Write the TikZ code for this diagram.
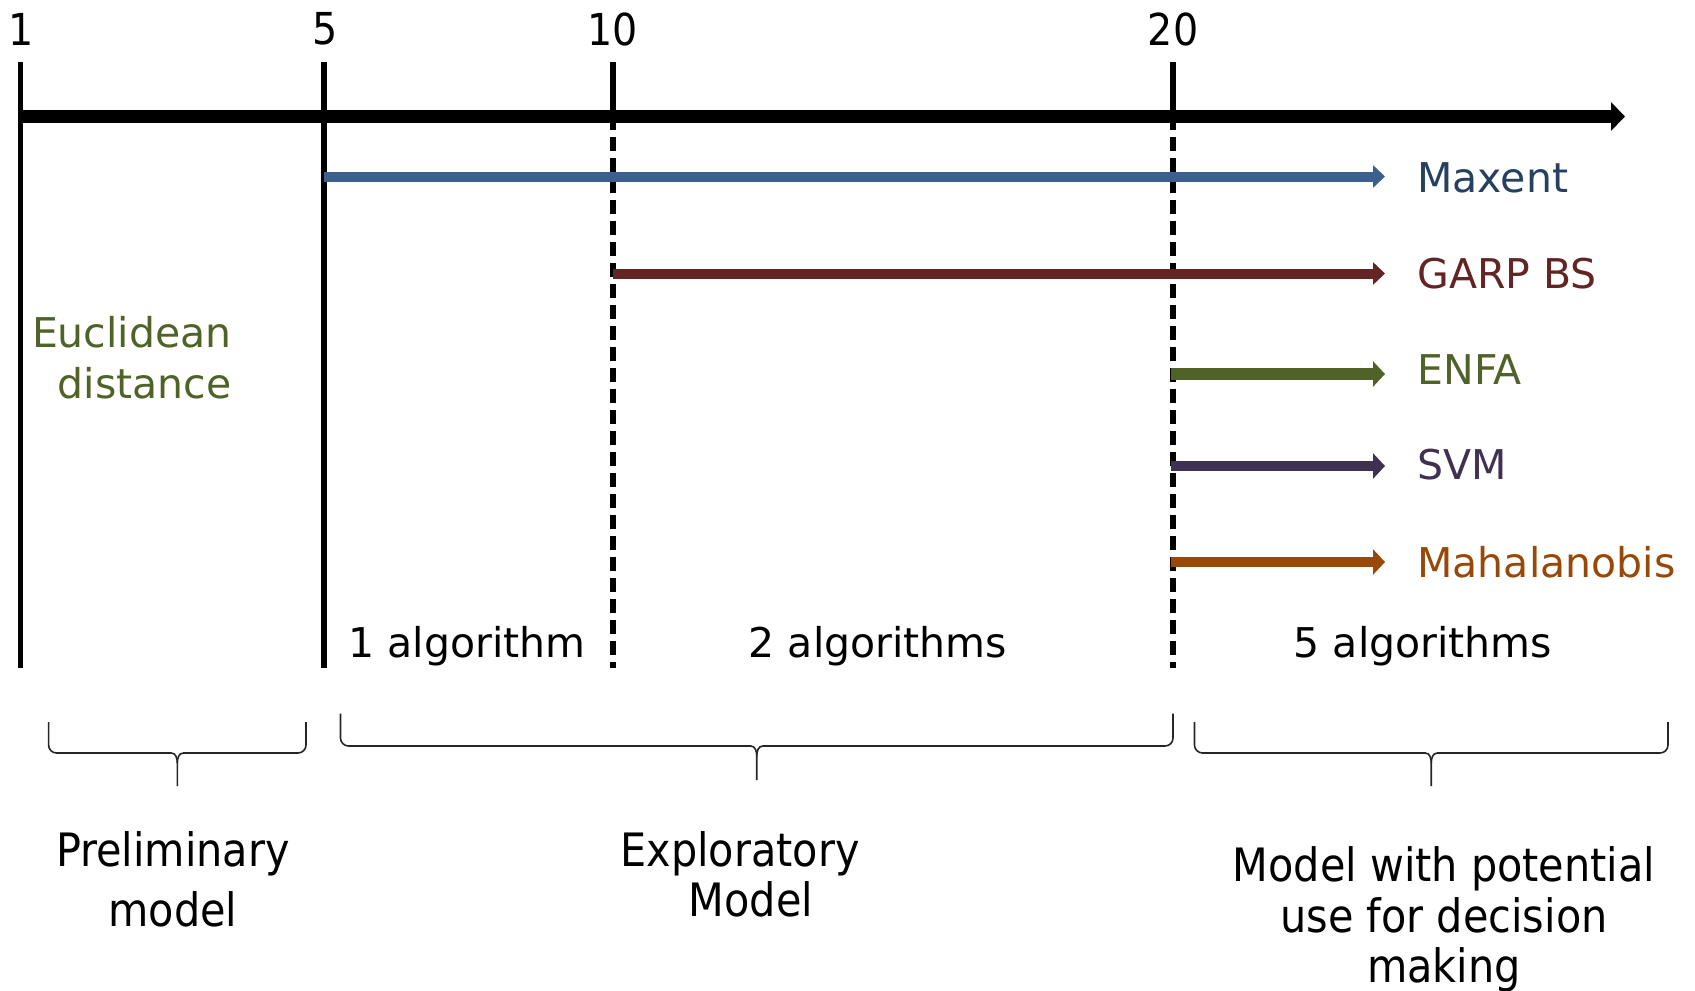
\documentclass[tikz,border=0pt]{standalone}
\usepackage{fontspec}
\setmainfont{DejaVu Sans}
\newfontfamily\condfont{DejaVu Sans Condensed}
\usetikzlibrary{arrows.meta}
\definecolor{cmax}{HTML}{3B6090}
\definecolor{cmaxt}{HTML}{254061}
\definecolor{cgarp}{HTML}{632523}
\definecolor{cenfa}{HTML}{4F6228}
\definecolor{csvm}{HTML}{3F3151}
\definecolor{cmah}{HTML}{984807}
\tikzset{
  tick/.style={line width=2.85pt},
  dtick/.style={line width=2.85pt, dash pattern=on 7pt off 3.5pt},
  axisline/.style={line width=6.2pt, -{Triangle[length=7pt,width=14pt]}},
  algo/.style={-{Triangle[length=6pt,width=#1]}},
  numlab/.style={font=\condfont\fontsize{22}{26}\selectfont, inner sep=0pt},
  alglab/.style={font=\fontsize{20.5}{25}\selectfont, inner sep=0pt, anchor=west},
  cntlab/.style={font=\fontsize{20.5}{25}\selectfont, inner sep=0pt},
  phaselab/.style={font=\condfont\fontsize{23}{#1}\selectfont, inner sep=0pt, align=center, anchor=north},
  bracestyle/.style={line width=0.8pt, draw=black!85},
}
\newcommand{\mybrace}[5]{% xl, xr, top, line, tip
  \pgfmathsetmacro{\xm}{(#1+#2)/2}
  \draw[bracestyle] (#1,#3) -- (#1,#4-8) to[out=-90,in=180] (#1+8,#4) -- (\xm-6,#4) to[out=0,in=90] (\xm,#4+10) -- (\xm,#5);
  \draw[bracestyle] (#2,#3) -- (#2,#4-8) to[out=-90,in=0] (#2-8,#4) -- (\xm+6,#4) to[out=180,in=90] (\xm,#4+10);
}
\begin{document}
\begin{tikzpicture}[x=0.5pt,y=-0.5pt]
\useasboundingbox (0,0) rectangle (1695,990);
% tick coordinates
\coordinate (t1top) at (20.5,62);   \coordinate (t1bot) at (20.5,668);
\coordinate (t5top) at (324,62);    \coordinate (t5bot) at (324,668);
\coordinate (t10top) at (613,62);   \coordinate (t10ax) at (613,116);  \coordinate (t10bot) at (613,668);
\coordinate (t20top) at (1173,62);  \coordinate (t20ax) at (1173,116); \coordinate (t20bot) at (1173,668);
\coordinate (axs) at (18,116.5); \coordinate (axe) at (1625,116.5);
% numbers
\node[numlab] (n1) at (21.5,29) {1};
\node[numlab] (n5) at (325,29) {5};
\node[numlab] (n10) at (613,29) {10};
\node[numlab] (n20) at (1173,29) {20};
% ticks
\draw[tick] (t1top) -- (t1bot);
\draw[tick] (t5top) -- (t5bot);
\draw[tick] (t10top) -- (t10ax);
\draw[tick] (t20top) -- (t20ax);
\draw[dtick] (t10ax) -- (t10bot);
\draw[dtick] (t20ax) -- (t20bot);
% algorithm arrows
\coordinate (maxs) at (324,176.5);  \coordinate (maxe) at (1385,176.5);
\coordinate (garps) at (613,273.5); \coordinate (garpe) at (1385,273.5);
\coordinate (enfas) at (1171,374); \coordinate (enfae) at (1385,374);
\coordinate (svms) at (1171,466);  \coordinate (svme) at (1385,466);
\coordinate (mahs) at (1171,562);  \coordinate (mahe) at (1385,562);
\draw[algo=11pt, line width=5pt, cmax] (maxs) -- (maxe);
\draw[algo=11pt, line width=5pt, cgarp] (garps) -- (garpe);
\draw[algo=12.5pt, line width=5.6pt, cenfa] (enfas) -- (enfae);
\draw[algo=12.5pt, line width=5pt, csvm] (svms) -- (svme);
\draw[algo=12.5pt, line width=5.3pt, cmah] (mahs) -- (mahe);
% main axis
\draw[axisline] (axs) -- (axe);
% algorithm labels
\node[alglab, text=cmaxt] (lmax) at (1417,178) {Maxent};
\node[alglab, text=cgarp] (lgarp) at (1417,273.5) {GARP BS};
\node[alglab, text=cenfa] (lenfa) at (1417,370) {ENFA};
\node[alglab, text=csvm] (lsvm) at (1417,465) {SVM};
\node[alglab, text=cmah] (lmah) at (1417,562) {Mahalanobis};
% Euclidean
\node[cntlab, text=cenfa, align=right, anchor=north east, font=\fontsize{20.5}{25.5}\selectfont] (eucl) at (232,315.5) {Euclidean\\distance};
% counts
\node[cntlab] (c1) at (467,646) {1 algorithm};
\node[cntlab] (c2) at (878,646) {2 algorithms};
\node[cntlab] (c5) at (1423,646) {5 algorithms};
% braces
\mybrace{48.6}{306}{722}{753}{786}
\mybrace{340.5}{1173}{713.5}{746}{780}
\mybrace{1194.5}{1668}{722}{753}{786}
% phase labels
\node[phaselab=30.3] (prel) at (173,831) {Preliminary\\model};
\node[phaselab=24.9] (expl) at (740,831) {Exploratory\\\hspace*{11pt}Model};
\node[phaselab=25.4] (dec) at (1444,846) {Model with potential\\use for decision\\making};
\end{tikzpicture}
\end{document}
